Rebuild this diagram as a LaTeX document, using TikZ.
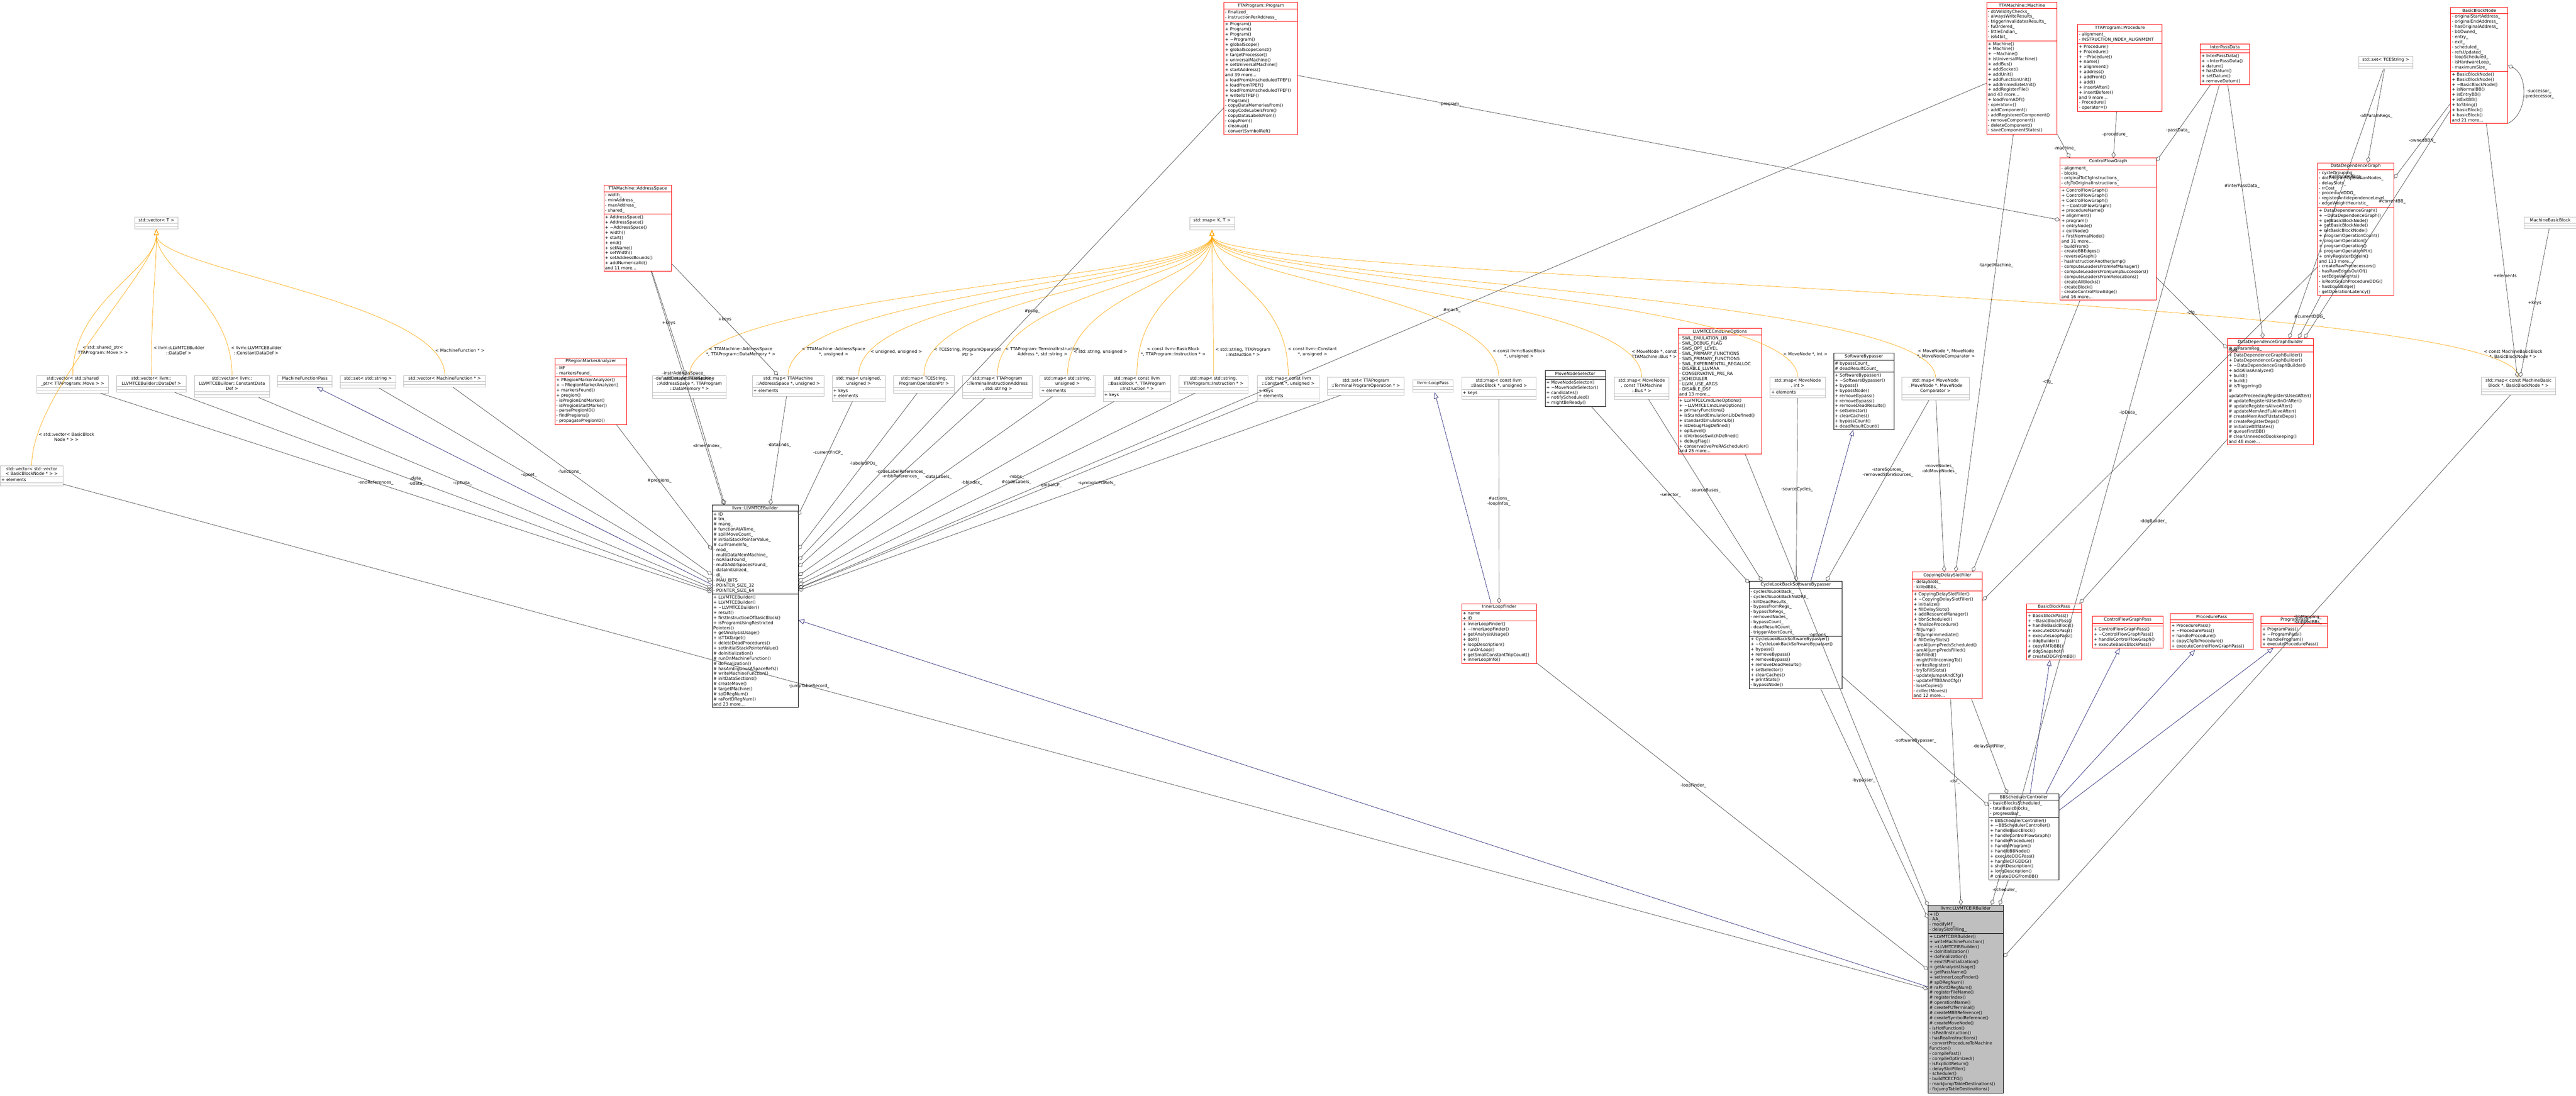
\documentclass[tikz,border=0pt]{standalone}
\usepackage{fontspec}
\setmainfont{DejaVu Sans}
\usetikzlibrary{shapes.multipart,arrows.meta,positioning}
\definecolor{dxred}{RGB}{255,0,0}
\definecolor{dxgray}{RGB}{191,191,191}
\definecolor{dxline}{RGB}{64,64,64}
\definecolor{dxblue}{RGB}{25,25,112}
\definecolor{dxorange}{RGB}{255,165,0}
% class box: style, name, x, y, width, title, attributes, methods
\newcommand{\cls}[8]{%
  \pgfmathsetmacro\tw{#5-0.07}%
  \node[#1, text width=\tw cm] (#2) at (#3,-#4) {\centering #6\par
    \nodepart{two}\raggedright #7\par
    \nodepart{three}\raggedright #8\par};}
\newcommand{\tl}{\textasciitilde}
\begin{document}
\catcode`\_=12
\begin{tikzpicture}[
    font=\fontsize{3.6}{4.3}\selectfont,
    box/.style={rectangle split, rectangle split parts=3, anchor=north west,
      inner xsep=1pt, inner ysep=1pt, line width=0.35pt, fill=white},
    blackbox/.style={box, draw=black},
    redbox/.style={box, draw=dxred},
    tmplbox/.style={box, draw=dxgray},
    mainbox/.style={box, draw=black, fill=dxgray},
    member/.style={draw=dxline, line width=0.3pt, {Diamond[open,length=5pt,width=3.5pt]}-},
    inherit/.style={draw=dxblue, line width=0.3pt, -{Triangle[open,length=5pt,width=4pt]}},
    tmpl/.style={draw=dxorange, line width=0.3pt, -{Triangle[open,length=5pt,width=4pt]}},
    lbl/.style={font=\fontsize{3.6}{4.3}\selectfont, align=center, inner sep=0.5pt}
  ]
  \useasboundingbox (0,0) rectangle (76.52,-32.56);

  % templates
  \cls{tmplbox}{vecT}{4.00}{6.45}{1.28}{std::vector< T >}{\mbox{}}{\mbox{}}
  \cls{tmplbox}{mapKT}{35.33}{6.45}{1.33}{std::map< K, T >}{\mbox{}}{\mbox{}}

  % top row
  \cls{redbox}{prog}{36.35}{0.06}{2.19}{TTAProgram::Program}
    {- finalized_\\- instructionPerAddress_}
    {+ Program()\\+ Program()\\+ Program()\\+ \tl Program()\\+ globalScope()\\+ globalScopeConst()\\+ targetProcessor()\\+ universalMachine()\\+ setUniversalMachine()\\+ startAddress()\\and 39 more...\\+ loadFromUnscheduledTPEF()\\+ loadFromTPEF()\\+ loadFromUnscheduledTPEF()\\+ writeToTPEF()\\- Program()\\- copyDataMemoriesFrom()\\- copyCodeLabelsFrom()\\- copyDataLabelsFrom()\\- copyFrom()\\- cleanup()\\- convertSymbolRef()}
  \cls{redbox}{mach}{59.01}{0.06}{2.09}{TTAMachine::Machine}
    {- doValidityChecks_\\- alwaysWriteResults_\\- triggerInvalidatesResults_\\- fuOrdered_\\- littleEndian_\\- is64bit_}
    {+ Machine()\\+ Machine()\\+ \tl Machine()\\+ isUniversalMachine()\\+ addBus()\\+ addSocket()\\+ addUnit()\\+ addFunctionUnit()\\+ addImmediateUnit()\\+ addRegisterFile()\\and 43 more...\\+ loadFromADF()\\- operator=()\\- addComponent()\\- addRegisteredComponent()\\- removeComponent()\\- deleteComponent()\\- saveComponentStates()}
  \cls{redbox}{proc}{61.71}{0.72}{2.51}{TTAProgram::Procedure}
    {- alignment_\\- INSTRUCTION_INDEX_ALIGNMENT}
    {+ Procedure()\\+ Procedure()\\+ \tl Procedure()\\+ name()\\+ alignment()\\+ address()\\+ addFront()\\+ add()\\+ insertAfter()\\+ insertBefore()\\and 9 more...\\- Procedure()\\- operator=()}
  \cls{redbox}{ipd}{65.35}{1.30}{1.47}{InterPassData}{\mbox{}}
    {+ InterPassData()\\+ \tl InterPassData()\\+ datum()\\+ hasDatum()\\+ setDatum()\\+ removeDatum()}
  \cls{tmplbox}{sts}{70.06}{1.67}{1.60}{std::set< TCEString >}{\mbox{}}{\mbox{}}
  \cls{redbox}{bbn}{72.79}{0.21}{1.70}{BasicBlockNode}
    {- originalStartAddress_\\- originalEndAddress_\\- hasOriginalAddress_\\- bbOwned_\\- entry_\\- exit_\\- scheduled_\\- refsUpdated_\\- loopScheduled_\\- isHardwareLoop_\\- maximumSize_}
    {+ BasicBlockNode()\\+ BasicBlockNode()\\+ \tl BasicBlockNode()\\+ isNormalBB()\\+ isEntryBB()\\+ isExitBB()\\+ toString()\\+ basicBlock()\\+ basicBlock()\\and 21 more...}

  % second level
  \cls{redbox}{aspace}{17.93}{5.49}{2.01}{TTAMachine::AddressSpace}
    {- width_\\- minAddress_\\- maxAddress_\\- shared_}
    {+ AddressSpace()\\+ AddressSpace()\\+ \tl AddressSpace()\\+ width()\\+ start()\\+ end()\\+ setName()\\+ setWidth()\\+ setAddressBounds()\\+ addNumericalId()\\and 11 more...}
  \cls{redbox}{cfg}{61.19}{4.69}{2.85}{ControlFlowGraph}
    {- alignment_\\- blocks_\\- originalToCfgInstructions_\\- cfgToOriginalInstructions_}
    {+ ControlFlowGraph()\\+ ControlFlowGraph()\\+ ControlFlowGraph()\\+ \tl ControlFlowGraph()\\+ procedureName()\\+ alignment()\\+ program()\\+ entryNode()\\+ exitNode()\\+ firstNormalNode()\\and 31 more...\\- buildFrom()\\- createBBEdges()\\- reverseGraph()\\- hasInstructionAnotherJump()\\- computeLeadersFromRefManager()\\- computeLeadersFromJumpSuccessors()\\- computeLeadersFromRelocations()\\- createAllBlocks()\\- createBlock()\\- createControlFlowEdge()\\and 16 more...}
  \cls{redbox}{ddg}{68.84}{4.83}{2.26}{DataDependenceGraph}
    {- cycleGrouping_\\- dotProgramOperationNodes_\\- delaySlots_\\- rrCost_\\- procedureDDG_\\- registerAntidependenceLevel_\\- edgeWeightHeuristic_}
    {+ DataDependenceGraph()\\+ \tl DataDependenceGraph()\\+ getBasicBlockNode()\\+ getBasicBlockNode()\\+ setBasicBlockNode()\\+ programOperationCount()\\+ programOperation()\\+ programOperation()\\+ programOperationPtr()\\+ onlyRegisterEdgeIn()\\and 113 more...\\- createRawPredecessors()\\- hasRawEdgesOutOf()\\- setEdgeWeights()\\- isRootGraphProcedureDDG()\\- hasEqualEdge()\\- getOperationLatency()}
  \cls{tmplbox}{mbb}{74.98}{6.44}{1.54}{MachineBasicBlock}{\mbox{}}{\mbox{}}

  % row of instances
  \cls{tmplbox}{vvec}{0.00}{13.83}{1.87}{std::vector< std::vector\\< BasicBlockNode * > >}{+ elements}{\mbox{}}
  \cls{tmplbox}{spm}{1.09}{11.15}{2.13}{std::vector< std::shared\\_ptr< TTAProgram::Move > >}{\mbox{}}{\mbox{}}
  \cls{tmplbox}{vdd}{3.46}{11.15}{2.06}{std::vector< llvm::\\LLVMTCEBuilder::DataDef >}{\mbox{}}{\mbox{}}
  \cls{tmplbox}{vcd}{5.77}{11.15}{2.23}{std::vector< llvm::\\LLVMTCEBuilder::ConstantData\\Def >}{\mbox{}}{\mbox{}}
  \cls{tmplbox}{mfp}{8.24}{11.15}{1.62}{MachineFunctionPass}{\mbox{}}{\mbox{}}
  \cls{tmplbox}{sstr}{10.10}{11.15}{1.65}{std::set< std::string >}{\mbox{}}{\mbox{}}
  \cls{tmplbox}{vmf}{11.99}{11.15}{2.43}{std::vector< MachineFunction * >}{\mbox{}}{\mbox{}}
  \cls{redbox}{prma}{16.48}{10.63}{2.13}{PRegionMarkerAnalyzer}
    {- MF\\- markersFound_}
    {+ PRegionMarkerAnalyzer()\\+ \tl PRegionMarkerAnalyzer()\\+ markersFound()\\+ pregion()\\- isPregionEndMarker()\\- isPregionStartMarker()\\- parsePregionID()\\- findPregions()\\- propagatePregionID()}
  \cls{tmplbox}{mdm}{19.38}{11.15}{2.19}{std::map< TTAMachine\\::AddressSpace *, TTAProgram\\::DataMemory * >}{\mbox{}}{\mbox{}}
  \cls{tmplbox}{mau}{22.34}{11.15}{2.13}{std::map< TTAMachine\\::AddressSpace *, unsigned >}{+ elements}{\mbox{}}
  \cls{tmplbox}{muu}{24.71}{11.15}{1.58}{std::map< unsigned,\\unsigned >}{+ keys\\+ elements}{\mbox{}}
  \cls{tmplbox}{mpo}{26.53}{11.15}{1.82}{std::map< TCEString,\\ProgramOperationPtr >}{\mbox{}}{\mbox{}}
  \cls{tmplbox}{mtia}{28.59}{11.15}{2.06}{std::map< TTAProgram\\::TerminalInstructionAddress\\ *, std::string >}{\mbox{}}{\mbox{}}
  \cls{tmplbox}{msu}{30.89}{11.15}{1.63}{std::map< std::string,\\unsigned >}{+ elements}{\mbox{}}
  \cls{tmplbox}{mbbi}{32.76}{11.15}{2.01}{std::map< const llvm\\::BasicBlock *, TTAProgram\\::Instruction * >}{+ keys}{\mbox{}}
  \cls{tmplbox}{msi}{35.01}{11.15}{2.06}{std::map< std::string,\\TTAProgram::Instruction * >}{\mbox{}}{\mbox{}}
  \cls{tmplbox}{mcu}{37.34}{11.15}{1.84}{std::map< const llvm\\::Constant *, unsigned >}{+ keys\\+ elements}{\mbox{}}
  \cls{tmplbox}{stpo}{39.42}{11.21}{2.29}{std::set< TTAProgram\\::TerminalProgramOperation * >}{\mbox{}}{\mbox{}}
  \cls{tmplbox}{loop}{41.96}{11.28}{1.20}{llvm::LoopPass}{\mbox{}}{\mbox{}}
  \cls{tmplbox}{mbbu}{43.41}{11.21}{2.21}{std::map< const llvm\\::BasicBlock *, unsigned >}{+ keys}{\mbox{}}
  \cls{blackbox}{mns}{45.89}{11.00}{1.79}{MoveNodeSelector}{\mbox{}}
    {+ MoveNodeSelector()\\+ \tl MoveNodeSelector()\\+ candidates()\\+ notifyScheduled()\\+ mightBeReady()}
  \cls{tmplbox}{mmb}{47.95}{11.21}{1.62}{std::map< MoveNode\\*, const TTAMachine\\::Bus * >}{\mbox{}}{\mbox{}}
  \cls{redbox}{opts}{49.84}{9.75}{2.48}{LLVMTCECmdLineOptions}
    {- SWL_EMULATION_LIB\\- SWL_DEBUG_FLAG\\- SWS_OPT_LEVEL\\- SWL_PRIMARY_FUNCTIONS\\- SWS_PRIMARY_FUNCTIONS\\- SWL_EXPERIMENTAL_REGALLOC\\- DISABLE_LLVMAA\\- CONSERVATIVE_PRE_RA\\_SCHEDULER\\- LLVM_USE_ARGS\\- DISABLE_DSF\\and 13 more...}
    {+ LLVMTCECmdLineOptions()\\+ \tl LLVMTCECmdLineOptions()\\+ primaryFunctions()\\+ isStandardEmulationLibDefined()\\+ standardEmulationLib()\\+ isDebugFlagDefined()\\+ optLevel()\\+ isVerboseSwitchDefined()\\+ debugFlag()\\+ conservativePreRAScheduler()\\and 25 more...}
  \cls{tmplbox}{mmi}{52.57}{11.21}{1.65}{std::map< MoveNode\\*, int >}{+ elements}{\mbox{}}
  \cls{blackbox}{sbp}{54.46}{10.49}{1.80}{SoftwareBypasser}
    {\# bypassCount_\\\# deadResultCount_}
    {+ SoftwareBypasser()\\+ \tl SoftwareBypasser()\\+ bypass()\\+ bypassNode()\\+ removeBypass()\\+ removeBypass()\\+ removeDeadResults()\\+ setSelector()\\+ clearCaches()\\+ bypassCount()\\+ deadResultCount()}
  \cls{tmplbox}{mmm}{56.48}{11.21}{2.01}{std::map< MoveNode\\*, MoveNode *, MoveNode\\Comparator >}{\mbox{}}{\mbox{}}
  \cls{redbox}{ddgb}{66.16}{10.05}{2.55}{DataDependenceGraphBuilder}
    {\# rvParamReg_}
    {+ DataDependenceGraphBuilder()\\+ DataDependenceGraphBuilder()\\+ \tl DataDependenceGraphBuilder()\\+ addAliasAnalyzer()\\+ build()\\+ build()\\\# isTriggering()\\\# updatePreceedingRegistersUsedAfter()\\\# updateRegistersUsedInOrAfter()\\\# updateRegistersAliveAfter()\\\# updateMemAndFuAliveAfter()\\\# createMemAndFUstateDeps()\\\# createRegisterDeps()\\\# initializeBBStates()\\\# queueFirstBB()\\\# clearUnneededBookkeeping()\\and 48 more...}
  \cls{tmplbox}{mmbb}{73.70}{11.21}{2.21}{std::map< const MachineBasic\\Block *, BasicBlockNode * >}{\mbox{}}{\mbox{}}

  % builder
  \cls{blackbox}{bld}{21.15}{15.00}{2.55}{llvm::LLVMTCEBuilder}
    {+ ID\\\# tm_\\\# mang_\\\# functionAtATime_\\\# spillMoveCount_\\\# initialStackPointerValue_\\\# curFrameInfo_\\- mod_\\- multiDataMemMachine_\\- noAliasFound_\\- multiAddrSpacesFound_\\- dataInitialized_\\- dl_\\- MAU_BITS\\- POINTER_SIZE_32\\- POINTER_SIZE_64}
    {+ LLVMTCEBuilder()\\+ LLVMTCEBuilder()\\+ \tl LLVMTCEBuilder()\\+ result()\\+ firstInstructionOfBasicBlock()\\+ isProgramUsingRestricted\\Pointers()\\+ getAnalysisUsage()\\+ isTTATarget()\\+ deleteDeadProcedures()\\+ setInitialStackPointerValue()\\\# doInitialization()\\\# runOnMachineFunction()\\\# doFinalization()\\\# hasAmbiguousASpaceRefs()\\\# writeMachineFunction()\\\# initDataSections()\\\# createMove()\\\# targetMachine()\\\# spDRegNum()\\\# raPortDRegNum()\\and 23 more...}

  % passes
  \cls{redbox}{ilf}{43.41}{17.93}{2.23}{InnerLoopFinder}
    {+ name\\+ ID}
    {+ InnerLoopFinder()\\+ \tl InnerLoopFinder()\\+ getAnalysisUsage()\\+ doIt()\\+ loopDescription()\\+ runOnLoop()\\+ getSmallConstantTripCount()\\+ innerLoopInfo()}
  \cls{blackbox}{clb}{51.96}{17.27}{2.75}{CycleLookBackSoftwareBypasser}
    {- cyclesToLookBack_\\- cyclesToLookBackNoDRE_\\- killDeadResults_\\- bypassFromRegs_\\- bypassToRegs_\\- removedNodes_\\- bypassCount_\\- deadResultCount_\\- triggerAbortCount_}
    {+ CycleLookBackSoftwareBypasser()\\+ \tl CycleLookBackSoftwareBypasser()\\+ bypass()\\+ removeBypass()\\+ removeBypass()\\+ removeDeadResults()\\+ setSelector()\\+ clearCaches()\\+ printStats()\\- bypassNode()}
  \cls{redbox}{cdsf}{56.80}{16.99}{2.08}{CopyingDelaySlotFiller}
    {- delaySlots_\\- killedBBs_}
    {+ CopyingDelaySlotFiller()\\+ \tl CopyingDelaySlotFiller()\\+ initialize()\\+ fillDelaySlots()\\+ addResourceManager()\\+ bbnScheduled()\\+ finalizeProcedure()\\- fillJump()\\- fillJumpImmediate()\\\# fillDelaySlots()\\- areAllJumpPredsScheduled()\\- areAllJumpPredsFilled()\\- bbFilled()\\- mightFillIncomingTo()\\- writesRegister()\\- tryToFillSlots()\\- updateJumpsAndCfg()\\- updateFTBBAndCfg()\\- loseCopies()\\- collectMoves()\\and 12 more...}
  \cls{redbox}{bbp}{60.19}{17.93}{1.64}{BasicBlockPass}{\mbox{}}
    {+ BasicBlockPass()\\+ \tl BasicBlockPass()\\+ handleBasicBlock()\\+ executeDDGPass()\\+ executeLoopPass()\\+ ddgBuilder()\\+ copyRMToBB()\\\# ddgSnapshot()\\\# createDDGFromBB()}
  \cls{redbox}{cfgp}{62.15}{18.31}{2.09}{ControlFlowGraphPass}{\mbox{}}
    {+ ControlFlowGraphPass()\\+ \tl ControlFlowGraphPass()\\+ handleControlFlowGraph()\\+ executeBasicBlockPass()}
  \cls{redbox}{procp}{64.46}{18.23}{2.46}{ProcedurePass}{\mbox{}}
    {+ ProcedurePass()\\+ \tl ProcedurePass()\\+ handleProcedure()\\+ copyCfgToProcedure()\\+ executeControlFlowGraphPass()}
  \cls{redbox}{progp}{67.16}{18.31}{1.97}{ProgramPass}{\mbox{}}
    {+ ProgramPass()\\+ \tl ProgramPass()\\+ handleProgram()\\+ executeProcedurePass()}

  \cls{blackbox}{bbsc}{59.07}{23.59}{2.08}{BBSchedulerController}
    {- basicBlocksScheduled_\\- totalBasicBlocks_\\- progressBar_}
    {+ BBSchedulerController()\\+ \tl BBSchedulerController()\\+ handleBasicBlock()\\+ handleControlFlowGraph()\\+ handleProcedure()\\+ handleProgram()\\+ handleBBNode()\\+ executeDDGPass()\\+ handleCFGDDG()\\+ shortDescription()\\+ longDescription()\\\# createDDGFromBB()}

  \cls{mainbox}{irb}{57.27}{26.89}{2.23}{llvm::LLVMTCEIRBuilder}
    {+ ID\\- AA_\\- modifyMF_\\- delaySlotFilling_}
    {+ LLVMTCEIRBuilder()\\+ writeMachineFunction()\\+ \tl LLVMTCEIRBuilder()\\+ doInitialization()\\+ doFinalization()\\+ emitSPInitialization()\\+ getAnalysisUsage()\\+ getPassName()\\+ setInnerLoopFinder()\\\# spDRegNum()\\\# raPortDRegNum()\\\# registerFileName()\\\# registerIndex()\\\# operationName()\\\# createFUTerminal()\\\# createMBBReference()\\\# createSymbolReference()\\\# createMoveNode()\\- isHotFunction()\\- isRealInstruction()\\- hasRealInstructions()\\- convertProcedureToMachine\\Function()\\- compileFast()\\- compileOptimized()\\- isExplicitReturn()\\- delaySlotFiller()\\- scheduler()\\- buildTCECFG()\\- markJumpTableDestinations()\\- fixJumpTableDestinations()}

  % template instantiations
  \foreach \n/\t in {vvec/{< std::vector< BasicBlock\\Node * > >}, spm/{< std::shared_ptr<\\TTAProgram::Move > >},
      vdd/{< llvm::LLVMTCEBuilder\\::DataDef >}, vcd/{< llvm::LLVMTCEBuilder\\::ConstantDataDef >},
      vmf/{< MachineFunction * >}} {
    \draw[tmpl] (\n.north) .. controls +(0,2.2) and +(0,-1.2) .. (vecT.south)
      node[lbl, pos=0.12, right=1pt] {\t};
  }
  \foreach \n/\t in {mdm/{< TTAMachine::AddressSpace\\*, TTAProgram::DataMemory * >}, mau/{< TTAMachine::AddressSpace\\*, unsigned >},
      muu/{< unsigned, unsigned >}, mpo/{< TCEString, ProgramOperation\\Ptr >},
      mtia/{< TTAProgram::TerminalInstruction\\Address *, std::string >}, msu/{< std::string, unsigned >},
      mbbi/{< const llvm::BasicBlock\\*, TTAProgram::Instruction * >}, msi/{< std::string, TTAProgram\\::Instruction * >},
      mcu/{< const llvm::Constant\\*, unsigned >}, mbbu/{< const llvm::BasicBlock\\*, unsigned >},
      mmb/{< MoveNode *, const\\TTAMachine::Bus * >}, mmi/{< MoveNode *, int >},
      mmm/{< MoveNode *, MoveNode\\*, MoveNodeComparator >}, mmbb/{< const MachineBasicBlock\\*, BasicBlockNode * >}} {
    \draw[tmpl] (\n.north) .. controls +(0,2.5) and +(0,-1.5) .. (mapKT.south)
      node[lbl, pos=0.1, right=1pt] {\t};
  }

  % inheritance
  \draw[inherit] (bld) -- (mfp);
  \draw[inherit] (irb) -- (bld);
  \draw[inherit] (ilf) -- (loop);
  \draw[inherit] (clb) -- (sbp);
  \foreach \p in {bbp, cfgp, procp, progp} {
    \draw[inherit] (bbsc) -- (\p);
  }

  % members of llvm::LLVMTCEBuilder
  \foreach \m/\t in {spm/-endReferences_, vdd/{-data_\\-udata_}, vcd/-cpData_, sstr/-opset_,
      vmf/-functions_, aspace/{-instrAddressSpace_\\-defaultDataAddressSpace_}, prma/\#pregions_,
      mdm/-dmemIndex_, mau/-dataEnds_, muu/-currentFnCP_, mpo/-labeledPOs_,
      mtia/{-codeLabelReferences_\\-mbbReferences_}, msu/-dataLabels_, mbbi/-bbIndex_,
      msi/{-mbbs_\\\#codeLabels_}, mcu/-globalCP_, stpo/-symbolicPORefs_, prog/\#prog_, mach/\#mach_} {
    \draw[member] (bld) -- (\m) node[lbl, pos=0.55] {\t};
  }
  \draw[member] (mdm) -- (aspace) node[lbl, midway] {+keys};
  \draw[member] (mau) -- (aspace) node[lbl, midway] {+keys};

  % members of llvm::LLVMTCEIRBuilder
  \foreach \m/\t in {vvec/-jumpTableRecord_, ilf/-loopFinder_, clb/-bypasser_, cdsf/-dsf_,
      bbsc/-scheduler_, opts/-options_, mmbb/{-bbMapping_\\-skippedBBs_}, ipd/-ipData_} {
    \draw[member] (irb) -- (\m) node[lbl, pos=0.6] {\t};
  }

  % other members
  \draw[member] (bbsc) -- (clb) node[lbl, midway] {-softwareBypasser_};
  \draw[member] (bbsc) -- (cdsf) node[lbl, midway] {-delaySlotFiller_};
  \draw[member] (bbp) -- (ddgb) node[lbl, midway] {-ddgBuilder_};
  \draw[member] (clb) -- (mns) node[lbl, midway] {-selector_};
  \draw[member] (clb) -- (mmb) node[lbl, midway] {-sourceBuses_};
  \draw[member] (clb) -- (mmi) node[lbl, midway] {-sourceCycles_};
  \draw[member] (clb) -- (mmm) node[lbl, pos=0.6] {-storeSources_\\-removedStoreSources_};
  \draw[member] (cdsf) -- (mmm) node[lbl, pos=0.6] {-moveNodes_\\-oldMoveNodes_};
  \draw[member] (cdsf) -- (mach) node[lbl, pos=0.7] {-targetMachine_};
  \draw[member] (cdsf) -- (cfg) node[lbl, pos=0.7] {-cfg_};
  \draw[member] (cdsf) -- (ddg) node[lbl, pos=0.75] {-ddg_};
  \draw[member] (ilf) -- (mbbu) node[lbl, midway] {\#actions_\\-loopInfos_};
  \draw[member] (cfg) -- (prog) node[lbl, pos=0.8] {-program_};
  \draw[member] (cfg) -- (proc) node[lbl, midway] {-procedure_};
  \draw[member] (cfg) -- (mach) node[lbl, pos=0.4] {-machine_};
  \draw[member] (cfg) -- (ipd) node[lbl, pos=0.4] {-passData_};
  \draw[member] (ddg) -- (sts) node[lbl, midway] {-allParamRegs_};
  \draw[member] (ddg) -- (bbn) node[lbl, midway] {-ownedBBN_};
  \draw[member] (ddgb) -- (cfg) node[lbl, midway] {-cfg_};
  \draw[member] (ddgb) -- (ddg) node[lbl, midway] {\#currentDDG_};
  \draw[member] (ddgb) -- (ipd) node[lbl, pos=0.6] {\#interPassData_};
  \draw[member] (ddgb) -- (sts) node[lbl, pos=0.6] {\#allParamRegs_};
  \draw[member] (ddgb) -- (bbn) node[lbl, pos=0.6] {\#currentBB_};
  \draw[member] (mmbb) -- (mbb) node[lbl, midway] {+keys};
  \draw[member] (mmbb) -- (bbn) node[lbl, pos=0.4] {+elements};
  \draw[member] (bbn.east) .. controls +(0.6,-0.3) and +(0.6,0.3) .. (bbn.south east)
    node[lbl, right, pos=0.5] {-successor_\\-predecessor_};
\end{tikzpicture}
\end{document}
